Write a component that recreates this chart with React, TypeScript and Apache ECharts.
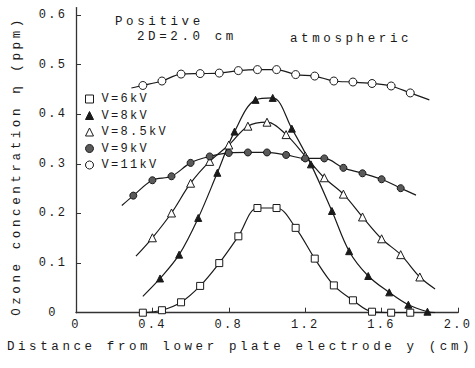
import React, { useEffect, useRef } from "react";
import * as echarts from "echarts";

// ---- data ----
const yTickValues = [0, 0.1, 0.2, 0.3, 0.4, 0.5, 0.6];
const xTickValues = [0, 0.4, 0.8, 1.2, 1.6, 2.0];

const seriesNames = ["V=6kV", "V=8kV", "V=8.5kV", "V=9kV", "V=11kV"];

const x6 = [0.35, 0.45, 0.55, 0.65, 0.75, 0.85, 0.95, 1.05, 1.15, 1.25, 1.35, 1.45, 1.55, 1.65, 1.75];
const v6 = [0.0, 0.005, 0.021, 0.054, 0.1, 0.154, 0.211, 0.211, 0.171, 0.109, 0.055, 0.025, 0.002, 0.0, 0.0];

const x8 = [0.44, 0.54, 0.64, 0.74, 0.83, 0.94, 1.03, 1.13, 1.23, 1.34, 1.43, 1.53, 1.64, 1.74, 1.84];
const v8 = [0.069, 0.117, 0.191, 0.282, 0.365, 0.429, 0.433, 0.371, 0.299, 0.205, 0.124, 0.074, 0.041, 0.016, 0.002];
const curve8Start = [0.35, 0.033];
const curve8End = [1.88, 0.0];

const x85 = [0.4, 0.5, 0.6, 0.7, 0.8, 0.9, 1.0, 1.1, 1.2, 1.3, 1.4, 1.5, 1.6, 1.7, 1.8];
const v85 = [0.151, 0.201, 0.261, 0.305, 0.338, 0.376, 0.384, 0.359, 0.316, 0.272, 0.239, 0.193, 0.149, 0.117, 0.072];
const curve85Start = [0.314, 0.114];
const curve85End = [1.88, 0.048];

const x9 = [0.3, 0.4, 0.5, 0.6, 0.7, 0.8, 0.9, 1.0, 1.1, 1.2, 1.3, 1.4, 1.5, 1.6, 1.7];
const v9 = [0.236, 0.267, 0.275, 0.302, 0.315, 0.322, 0.323, 0.323, 0.318, 0.311, 0.311, 0.292, 0.281, 0.269, 0.251];
const curve9Start = [0.24, 0.216];
const curve9End = [1.78, 0.237];

const x11 = [0.35, 0.45, 0.55, 0.65, 0.75, 0.85, 0.95, 1.05, 1.15, 1.25, 1.35, 1.45, 1.55, 1.65, 1.75];
const v11 = [0.458, 0.467, 0.481, 0.482, 0.483, 0.488, 0.49, 0.49, 0.48, 0.477, 0.467, 0.465, 0.462, 0.457, 0.443];
const curve11Start = [0.29, 0.453];
const curve11End = [1.85, 0.429];

const FONT = "'Liberation Mono', 'DejaVu Sans Mono', monospace";
const INK = "#1a1a1a";

function buildData(xs: number[], ys: number[], start?: number[], end?: number[]) {
  const pts: any[] = xs.map((x, i) => [x, ys[i]]);
  if (start) pts.unshift({ value: start, symbol: "none" });
  if (end) pts.push({ value: end, symbol: "none" });
  return pts;
}

export default function App() {
  const ref = useRef<HTMLDivElement>(null);

  useEffect(() => {
    if (!ref.current) return;
    const chart = echarts.init(ref.current, null, { renderer: "svg" });

    const lineCommon = {
      type: "line",
      smooth: 0.35,
      lineStyle: { color: INK, width: 1.2 },
      z: 2,
    };

    const series: any[] = [
      {
        ...lineCommon,
        name: seriesNames[0],
        symbol: "rect",
        symbolSize: 7,
        itemStyle: { color: "#fff", borderColor: INK, borderWidth: 1 },
        data: buildData(x6, v6),
      },
      {
        ...lineCommon,
        name: seriesNames[1],
        symbol: "triangle",
        symbolSize: 7,
        itemStyle: { color: INK, borderColor: INK, borderWidth: 1 },
        data: buildData(x8, v8, curve8Start, curve8End),
      },
      {
        ...lineCommon,
        name: seriesNames[2],
        symbol: "triangle",
        symbolSize: 8,
        itemStyle: { color: "#fff", borderColor: INK, borderWidth: 1 },
        data: buildData(x85, v85, curve85Start, curve85End),
      },
      {
        ...lineCommon,
        name: seriesNames[3],
        symbol: "circle",
        symbolSize: 7,
        itemStyle: { color: "#5a5a5a", borderColor: INK, borderWidth: 1 },
        data: buildData(x9, v9, curve9Start, curve9End),
      },
      {
        ...lineCommon,
        name: seriesNames[4],
        symbol: "circle",
        symbolSize: 8,
        itemStyle: { color: "#fff", borderColor: INK, borderWidth: 1 },
        data: buildData(x11, v11, curve11Start, curve11End),
      },
    ];

    const icons = ["rect", "triangle", "triangle", "circle", "circle"];

    chart.setOption({
      animation: false,
      grid: { left: 76, right: 17, top: 7.6, bottom: 55.3, containLabel: false },
      legend: {
        orient: "vertical",
        left: 85,
        top: 93,
        itemWidth: 8,
        itemHeight: 8,
        itemGap: 4.5,
        padding: 0,
        selectedMode: false,
        itemStyle: { borderWidth: 1, borderColor: INK },
        textStyle: { fontFamily: FONT, fontSize: 12, color: INK, padding: [0, 0, 0, 3] },
        data: seriesNames.map((n, i) => ({ name: n, icon: icons[i] })),
      },
      xAxis: {
        type: "value",
        min: 0,
        max: 2.0,
        interval: 0.4,
        axisLine: { show: true, lineStyle: { color: "#333", width: 1.3 } },
        axisTick: { show: true, inside: true, length: 5, lineStyle: { color: "#333" }, customValues: xTickValues.slice(1) },
        axisLabel: {
          fontFamily: FONT,
          fontSize: 12,
          color: INK,
          margin: 6,
          customValues: xTickValues,
          formatter: (v: number) => (v === 0 ? "0" : v.toFixed(1)),
        },
        splitLine: { show: false },
      },
      yAxis: {
        type: "value",
        min: 0,
        max: 0.615,
        interval: 0.1,
        axisLine: { show: true, lineStyle: { color: "#333", width: 1.3 } },
        axisTick: { show: true, inside: true, length: 5, lineStyle: { color: "#333" }, customValues: yTickValues },
        axisLabel: {
          fontFamily: FONT,
          fontSize: 12,
          color: INK,
          margin: 23,
          align: "center",
          customValues: yTickValues,
          formatter: (v: number) => (v === 0 ? "0" : v.toFixed(1)),
        },
        splitLine: { show: false },
      },
      graphic: [
        {
          type: "text",
          x: 17,
          y: 166,
          rotation: Math.PI / 2,
          style: {
            text: "Ozone concentration η (ppm)",
            fontFamily: FONT,
            fontSize: 12.5,
            fill: INK,
            align: "center",
            verticalAlign: "middle",
          },
        },
        {
          type: "text",
          x: 240,
          y: 347,
          style: {
            text: "Distance from lower plate electrode y (cm)",
            fontFamily: FONT,
            fontSize: 12.5,
            fill: INK,
            align: "center",
            verticalAlign: "middle",
          },
        },
        {
          type: "text",
          x: 115,
          y: 22,
          style: { text: "Positive", fontFamily: FONT, fontSize: 12.5, fill: INK, align: "left", verticalAlign: "middle" },
        },
        {
          type: "text",
          x: 137,
          y: 37,
          style: { text: "2D=2.0 cm", fontFamily: FONT, fontSize: 12.5, fill: INK, align: "left", verticalAlign: "middle" },
        },
        {
          type: "text",
          x: 290,
          y: 39,
          style: { text: "atmospheric", fontFamily: FONT, fontSize: 12.5, fill: INK, align: "left", verticalAlign: "middle" },
        },
      ],
      series,
    });

    return () => chart.dispose();
  }, []);

  return (
    <>
      <style>{`.ozchart text[style*="12px"]{letter-spacing:2.3px}.ozchart text[style*="12.5px"]{letter-spacing:3.6px}`}</style>
      <div
        ref={ref}
        className="ozchart"
        style={{ position: "fixed", left: 0, top: 0, width: 475, height: 368, background: "#fff" }}
      />
    </>
  );
}
